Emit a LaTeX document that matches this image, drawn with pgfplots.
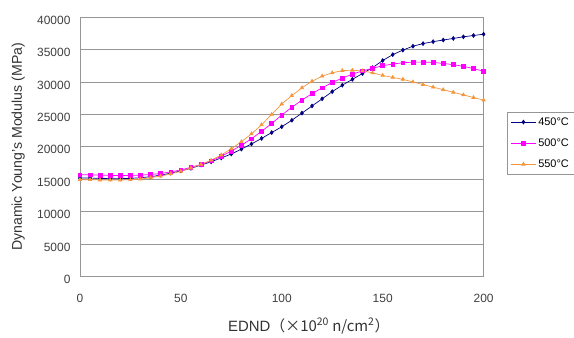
\documentclass[border=0pt]{standalone}
\usepackage{fontspec}
\setmainfont{Liberation Sans}
\newfontfamily\cjk{Noto Sans CJK JP}
\usepackage{pgfplots}
\pgfplotsset{compat=1.18}
\definecolor{navyS}{RGB}{0,0,128}
\definecolor{magS}{RGB}{255,0,255}
\definecolor{orgS}{RGB}{245,150,60}
\definecolor{gridG}{RGB}{150,150,150}
\begin{document}
\begin{tikzpicture}
\begin{axis}[
  name=ax,
  at={(0,0)}, anchor=south west,
  scale only axis,
  width=404bp, height=260bp,
  xmin=0, xmax=200, ymin=0, ymax=40000,
  xtick={0,50,100,150,200},
  ytick={0,5000,10000,15000,20000,25000,30000,35000,40000},
  scaled y ticks=false,
  yticklabel style={/pgf/number format/fixed,/pgf/number format/1000 sep={}, xshift=-6bp, yshift=-3bp},
  /pgf/number format/assume math mode=true,
  tick style={draw=none},
  ymajorgrids,
  major grid style={gridG, line width=0.8pt},
  axis line style={gridG, line width=0.8pt},
  tick label style={font=\fontsize{12}{13}\selectfont, text=black!75},
  xticklabel style={yshift=-14bp},
  xlabel={EDND\cjk{（}×10\textsuperscript{20} n/cm\textsuperscript{2}\cjk{）}},
  ylabel={Dynamic Young's Modulus (MPa)},
  label style={text=black!80},
  xlabel style={font=\fontsize{15}{16}\selectfont, at={(axis description cs:0.567,-0.19)}, anchor=center},
  ylabel style={font=\fontsize{14.2}{15}\selectfont, at={(axis description cs:-0.153,0.5)}, anchor=center},
  legend style={at={(1.059,0.633)}, anchor=north west, draw=gridG, font=\fontsize{11}{12}\selectfont, row sep=8pt, inner sep=3pt},
  legend cell align=left,
  legend image code/.code={\draw[#1] (0bp,0bp) -- (25bp,0bp); \draw[#1,only marks] plot coordinates {(12.5bp,0bp)};},
  every axis plot/.append style={line width=0.7pt, mark size=1.9pt},
]
\addplot[navyS, mark=diamond*] coordinates {
(0,15200)(5,15200)(10,15150)(15,15100)(20,15100)(25,15150)(30,15250)(35,15400)(40,15650)(45,15950)
(50,16300)(55,16700)(60,17200)(65,17700)(70,18300)(75,18900)(80,19650)(85,20450)(90,21300)(95,22200)
(100,23100)(105,24100)(110,25200)(115,26300)(120,27400)(125,28500)(130,29500)(135,30400)(140,31300)(145,32200)
(150,33300)(155,34200)(160,34900)(165,35500)(170,35900)(175,36200)(180,36450)(185,36700)(190,36950)(195,37150)(200,37350)};
\addlegendentry{450°C}
\addplot[magS, mark=square*] coordinates {
(0,15700)(5,15700)(10,15650)(15,15600)(20,15600)(25,15600)(30,15650)(35,15750)(40,15900)(45,16150)
(50,16450)(55,16850)(60,17300)(65,17850)(70,18550)(75,19350)(80,20250)(85,21250)(90,22400)(95,23600)
(100,24900)(105,26100)(110,27200)(115,28200)(120,29100)(125,29900)(130,30600)(135,31200)(140,31700)(145,32100)
(150,32500)(155,32750)(160,32950)(165,33050)(170,33050)(175,33000)(180,32850)(185,32650)(190,32400)(195,32050)(200,31650)};
\addlegendentry{500°C}
\addplot[orgS, mark=triangle*] coordinates {
(0,14950)(5,14950)(10,14900)(15,14900)(20,14900)(25,14950)(30,15050)(35,15250)(40,15500)(45,15850)
(50,16250)(55,16750)(60,17300)(65,17950)(70,18750)(75,19700)(80,20800)(85,22000)(90,23400)(95,25000)
(100,26600)(105,27900)(110,29100)(115,30100)(120,30900)(125,31400)(130,31750)(135,31800)(140,31700)(145,31400)
(150,31000)(155,30700)(160,30400)(165,30000)(170,29600)(175,29200)(180,28800)(185,28400)(190,28000)(195,27600)(200,27200)};
\addlegendentry{550°C}
\end{axis}
\useasboundingbox (-80bp,-61bp) rectangle (494bp,277bp);
\end{tikzpicture}
\end{document}
